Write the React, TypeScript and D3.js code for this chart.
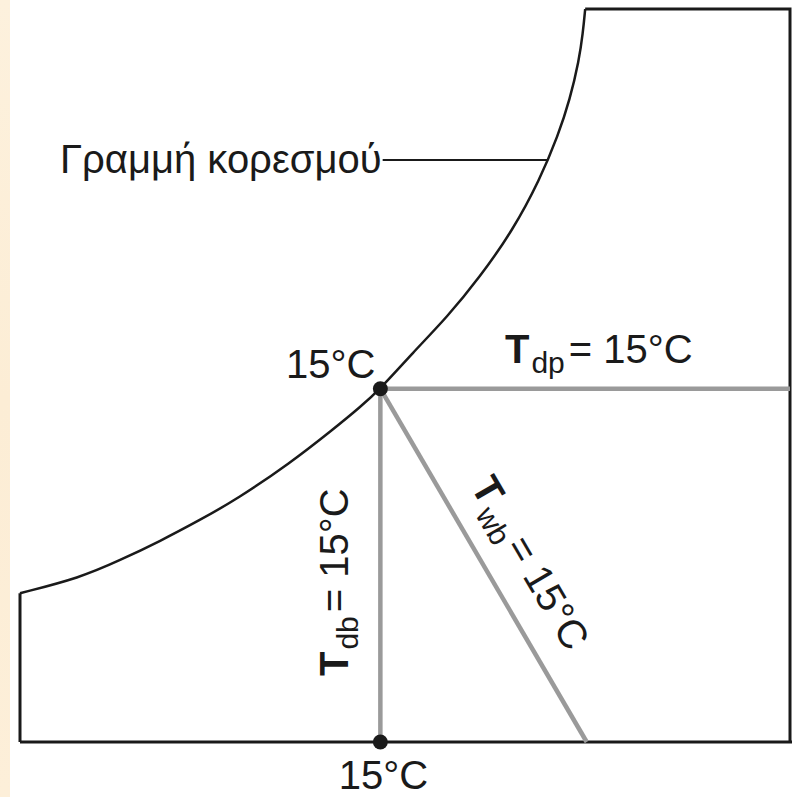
import React from "react";
import * as d3 from "d3";

// Saturation curve (dry-bulb axis units, humidity axis units)
const curveX = [0, 7.8, 13.0, 18.2, 23.4, 28.2, 35.1, 40.6, 44.2, 46.8, 51.0, 55.5, 59.7, 64.0, 67.5, 69.9, 71.4, 72.6, 73.1, 73.4];
const curveY = [20.3, 22.4, 24.8, 27.4, 30.3, 33.15, 38.06, 42.6, 45.7, 48.2, 53.1, 58.0, 63.4, 69.8, 76.7, 82.8, 87.6, 93.0, 96.7, 100];

// State point (15°C) and wet-bulb line end
const stateX = 46.8;
const stateY = 48.2;
const wetBulbEndX = 73.6;
const leaderStartX = 47.1;
const leaderY = 79.4;
const leaderEndX = 68.6;

const labelTemp = "15°C";
const satLabel = "Γραμμή κορεσμού";

const W = 792;
const H = 797;

export default function App() {
  const x = d3.scaleLinear().domain([0, 100]).range([20, 790]);
  const y = d3.scaleLinear().domain([0, 100]).range([742, 9]);

  const pts: [number, number][] = curveX.map((v, i) => [v, curveY[i]]);
  const line = d3
    .line<[number, number]>()
    .x((d) => x(d[0]))
    .y((d) => y(d[1]))
    .curve(d3.curveBasis);
  const curvePath = line(pts) || "";

  const outline = d3.path();
  outline.moveTo(x(0), y(curveY[0]));
  outline.lineTo(x(0), y(0));
  outline.moveTo(x(curveX[curveX.length - 1]), y(100));
  outline.lineTo(x(100), y(100));
  outline.lineTo(x(100), y(0));

  const sx = x(stateX);
  const sy = y(stateY);
  const ex = x(wetBulbEndX);
  const ey = y(0);
  const ang = (Math.atan2(ey - sy, ex - sx) * 180) / Math.PI;
  const len = Math.hypot(ex - sx, ey - sy);
  const ux = (ex - sx) / len;
  const uy = (ey - sy) / len;
  const along = 226;
  const perp = 28;
  const twbX = sx + ux * along + uy * perp;
  const twbY = sy + uy * along - ux * perp;

  const font = "'Liberation Sans', Arial, Helvetica, sans-serif";
  const fs = 40;
  const sub = 30;
  const gray = "#9a9a9a";
  const black = "#1a1a1a";

  return (
    <svg
      width={W}
      height={H}
      style={{ position: "absolute", left: 0, top: 0, background: "#fff" }}
      fontFamily={font}
    >
      <defs>
        <linearGradient id="strip" x1="0" y1="0" x2="0" y2="1">
          <stop offset="0" stopColor="#fdf1dd" />
          <stop offset="0.5" stopColor="#fcedd5" />
          <stop offset="1" stopColor="#fdefd9" />
        </linearGradient>
      </defs>
      <rect x={0} y={0} width={10} height={H} fill="url(#strip)" />

      {/* outline */}
      <path d={outline.toString()} fill="none" stroke={black} strokeWidth={3} />
      <line x1={x(0)} y1={y(0)} x2={W} y2={y(0)} stroke={black} strokeWidth={3} />
      <path d={curvePath} fill="none" stroke={black} strokeWidth={2.5} />

      {/* leader */}
      <line x1={x(leaderStartX)} y1={y(leaderY)} x2={x(leaderEndX)} y2={y(leaderY)} stroke={black} strokeWidth={2} />

      {/* gray lines */}
      <line x1={sx} y1={sy} x2={x(100)} y2={sy} stroke={gray} strokeWidth={4.5} />
      <line x1={sx} y1={sy} x2={sx} y2={y(0)} stroke={gray} strokeWidth={4.5} />
      <line x1={sx} y1={sy} x2={ex} y2={ey} stroke={gray} strokeWidth={4.5} />

      {/* dots */}
      <circle cx={sx} cy={sy} r={7.5} fill={black} />
      <circle cx={sx} cy={y(0)} r={7.5} fill={black} />

      {/* labels */}
      <text x={60} y={173} fontSize={fs} fill={black}>{satLabel}</text>
      <text x={sx - 5} y={378} fontSize={fs} fill={black} textAnchor="end">{labelTemp}</text>
      <text x={sx + 3} y={789} fontSize={fs} fill={black} textAnchor="middle">{labelTemp}</text>

      <text x={505} y={363} fontSize={fs} fill={black}>
        <tspan fontWeight="bold">T</tspan>
        <tspan fontSize={sub} dy={10} dx={2}>dp</tspan>
        <tspan dy={-10} dx={4}>= {labelTemp}</tspan>
      </text>

      <text transform={`translate(348,676) rotate(-90)`} fontSize={fs} fill={black}>
        <tspan fontWeight="bold">T</tspan>
        <tspan fontSize={sub} dy={10} dx={2}>db</tspan>
        <tspan dy={-10} dx={4}>= {labelTemp}</tspan>
      </text>

      <text
        transform={`translate(${twbX},${twbY}) rotate(${ang})`}
        fontSize={fs}
        fill={black}
        textAnchor="middle"
      >
        <tspan fontWeight="bold">T</tspan>
        <tspan fontSize={sub} dy={10} dx={2}>wb</tspan>
        <tspan dy={-10} dx={4}>= {labelTemp}</tspan>
      </text>
    </svg>
  );
}
